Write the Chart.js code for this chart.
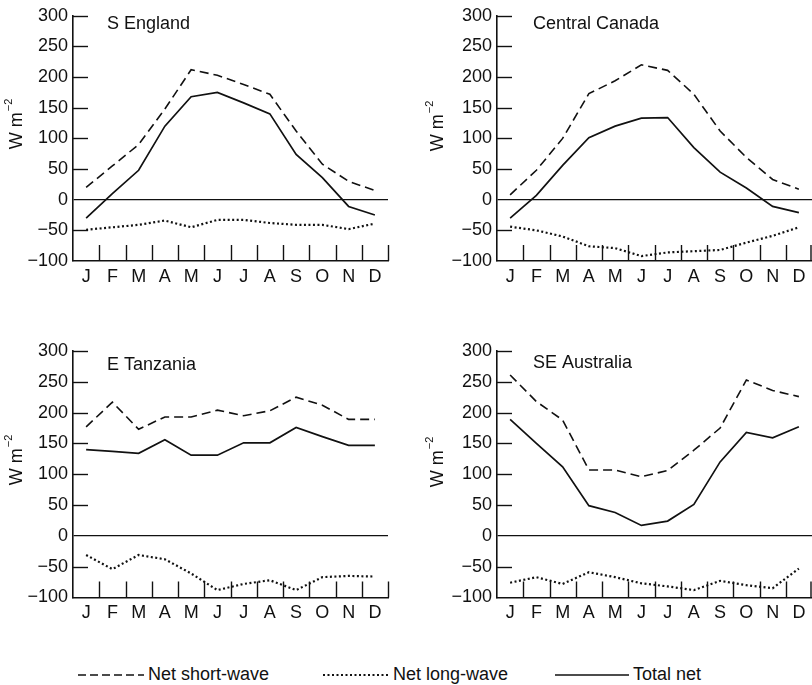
<!DOCTYPE html>
<html>
<head>
<meta charset="utf-8">
<script src="https://cdn.jsdelivr.net/npm/chart.js@4.4.0/dist/chart.umd.min.js"></script>
<style>
  body { margin: 0; background: #fff; width: 812px; height: 685px; position: relative; overflow: hidden; font-family: 'Liberation Sans', Arial, sans-serif; }
  canvas { position: absolute; }
  #legend { position: absolute; left: 0; top: 662px; width: 812px; height: 24px; font-size: 18px; color: #111; }
  #legend .item { position: absolute; top: 0; height: 24px; line-height: 24px; white-space: nowrap; }
  #legend svg { vertical-align: middle; margin-right: 4px; }
</style>
</head>
<body>
<canvas id="chart-england" width="400" height="290" style="left:0;top:0"></canvas>
<canvas id="chart-canada" width="412" height="290" style="left:400px;top:0"></canvas>
<canvas id="chart-tanzania" width="400" height="340" style="left:0;top:290px"></canvas>
<canvas id="chart-australia" width="412" height="340" style="left:400px;top:290px"></canvas>

<div id="legend">
  <div class="item" style="left:78px"><svg width="66" height="6"><line x1="0" y1="3" x2="66" y2="3" stroke="#111" stroke-width="1.6" stroke-dasharray="8,4"/></svg>Net short-wave</div>
  <div class="item" style="left:323px"><svg width="66" height="6"><line x1="0" y1="3" x2="66" y2="3" stroke="#111" stroke-width="2" stroke-dasharray="2,2.5"/></svg>Net long-wave</div>
  <div class="item" style="left:555px"><svg width="74" height="6"><line x1="0" y1="3" x2="74" y2="3" stroke="#111" stroke-width="1.6"/></svg>Total net</div>
</div>

<script>
const MONTHS = ['J', 'F', 'M', 'A', 'M', 'J', 'J', 'A', 'S', 'O', 'N', 'D'];
const Y_MIN = -100;
const Y_MAX = 300;
const Y_STEP = 50;

// S England
const englandShort = [20, 55, 90, 148, 212, 203, 188, 172, 112, 58, 30, 15];
const englandLong = [-49, -45, -41, -34, -45, -33, -33, -38, -41, -41, -48, -39];
const englandTotal = [-30, 10, 48, 120, 168, 175, 158, 140, 74, 36, -11, -25];

// Central Canada
const canadaShort = [8, 48, 100, 173, 194, 220, 211, 172, 112, 69, 33, 17];
const canadaLong = [-44, -50, -60, -76, -79, -92, -86, -84, -82, -70, -59, -45];
const canadaTotal = [-30, 7, 56, 101, 120, 133, 134, 85, 45, 19, -11, -21];

// E Tanzania
const tanzaniaShort = [177, 217, 173, 193, 193, 204, 195, 203, 225, 212, 189, 189];
const tanzaniaLong = [-31, -54, -31, -38, -61, -88, -78, -72, -88, -67, -65, -66];
const tanzaniaTotal = [140, 137, 134, 156, 131, 131, 151, 151, 176, 161, 147, 147];

// SE Australia
const australiaShort = [261, 218, 188, 107, 107, 96, 106, 139, 175, 253, 236, 226];
const australiaLong = [-76, -67, -78, -59, -67, -77, -82, -88, -73, -80, -85, -53];
const australiaTotal = [189, 150, 112, 49, 38, 17, 24, 51, 120, 168, 159, 177];

const INK = '#111';
const FONT = "'Liberation Sans', Arial, sans-serif";

Chart.defaults.font.family = FONT;
Chart.defaults.color = INK;

// inside tick marks, month separators, panel name and the W m-2 label
const panelDecor = {
    id: 'panelDecor',
    afterDraw(chart, args, opts) {
        const { ctx, chartArea: a, scales: { x, y } } = chart;
        ctx.save();
        ctx.strokeStyle = INK;
        ctx.lineWidth = 1.4;

        y.ticks.forEach(t => {
            if (t.value === 0 || t.value === Y_MIN) return;
            const py = Math.round(y.getPixelForValue(t.value)) + 0.5;
            ctx.beginPath();
            ctx.moveTo(a.left, py);
            ctx.lineTo(a.left + 15, py);
            ctx.stroke();
        });

        const n = MONTHS.length;
        const step = x.getPixelForValue(1) - x.getPixelForValue(0);
        for (let i = 1; i <= n; i++) {
            const px = Math.round(x.getPixelForValue(i - 1) + step / 2) + 0.5;
            ctx.beginPath();
            ctx.moveTo(Math.min(px, chart.width - 1), a.bottom);
            ctx.lineTo(Math.min(px, chart.width - 1), a.bottom - 16);
            ctx.stroke();
        }

        ctx.fillStyle = INK;
        ctx.font = '18px ' + FONT;
        ctx.textBaseline = 'middle';
        ctx.textAlign = 'left';
        ctx.fillText(opts.name, opts.nameX, opts.nameY);

        // rotated unit label
        ctx.translate(opts.unitX, opts.unitY);
        ctx.rotate(-Math.PI / 2);
        const main = 'W m';
        const sup = '\u22122';
        const wMain = ctx.measureText(main).width;
        ctx.font = '11px ' + FONT;
        const wSup = ctx.measureText(sup).width;
        const x0 = -(wMain + wSup + 1) / 2;
        ctx.font = '18px ' + FONT;
        ctx.fillText(main, x0, 0);
        ctx.font = '11px ' + FONT;
        ctx.fillText(sup, x0 + wMain + 1, -8);
        ctx.restore();
    }
};

function makePanel(id, shortWave, longWave, totalNet, cfg) {
    const ctx = document.getElementById(id).getContext('2d');
    return new Chart(ctx, {
        type: 'line',
        data: {
            labels: MONTHS,
            datasets: [
                {
                    label: 'Net short-wave',
                    data: shortWave,
                    borderColor: INK,
                    borderWidth: 1.6,
                    borderDash: [9, 5],
                    pointRadius: 0,
                    tension: 0
                },
                {
                    label: 'Net long-wave',
                    data: longWave,
                    borderColor: INK,
                    borderWidth: 2.2,
                    borderDash: [2, 2.5],
                    pointRadius: 0,
                    tension: 0
                },
                {
                    label: 'Total net',
                    data: totalNet,
                    borderColor: INK,
                    borderWidth: 1.7,
                    pointRadius: 0,
                    tension: 0
                }
            ]
        },
        options: {
            responsive: false,
            animation: false,
            devicePixelRatio: 1,
            layout: { padding: { left: 0, top: cfg.top, right: cfg.right, bottom: 0 } },
            plugins: {
                legend: { display: false },
                tooltip: { enabled: false },
                panelDecor: {
                    name: cfg.name,
                    nameX: cfg.nameX,
                    nameY: cfg.nameY,
                    unitX: cfg.unitX,
                    unitY: cfg.unitY
                }
            },
            scales: {
                x: {
                    type: 'category',
                    offset: true,
                    grid: { display: true, color: 'transparent', drawTicks: false },
                    border: { display: true, color: INK, width: 1.6 },
                    ticks: {
                        font: { size: 18 },
                        color: INK,
                        padding: 5,
                        maxRotation: 0,
                        autoSkip: false
                    },
                    afterFit: s => { s.height = cfg.xHeight; }
                },
                y: {
                    min: Y_MIN,
                    max: Y_MAX,
                    grid: {
                        drawTicks: false,
                        color: c => (c.tick && c.tick.value === 0 ? INK : 'transparent'),
                        lineWidth: 1.2
                    },
                    border: { display: true, color: INK, width: 1.6 },
                    ticks: {
                        stepSize: Y_STEP,
                        font: { size: 18 },
                        color: INK,
                        padding: 5,
                        callback: v => (v < 0 ? '\u2212' + Math.abs(v) : String(v))
                    },
                    afterFit: s => { s.width = cfg.yWidth; }
                }
            }
        },
        plugins: [panelDecor]
    });
}

makePanel('chart-england', englandShort, englandLong, englandTotal, {
    name: 'S England', top: 15, right: 12, xHeight: 29, yWidth: 73,
    nameX: 107, nameY: 24, unitX: 17, unitY: 124
});
makePanel('chart-canada', canadaShort, canadaLong, canadaTotal, {
    name: 'Central Canada', top: 15, right: 0, xHeight: 29, yWidth: 97,
    nameX: 133, nameY: 24, unitX: 38, unitY: 126
});
makePanel('chart-tanzania', tanzaniaShort, tanzaniaLong, tanzaniaTotal, {
    name: 'E Tanzania', top: 61, right: 12, xHeight: 32.5, yWidth: 73,
    nameX: 107, nameY: 75, unitX: 17, unitY: 170
});
makePanel('chart-australia', australiaShort, australiaLong, australiaTotal, {
    name: 'SE Australia', top: 61, right: 0, xHeight: 32.5, yWidth: 97,
    nameX: 133, nameY: 73, unitX: 38, unitY: 172
});
</script>
</body>
</html>
